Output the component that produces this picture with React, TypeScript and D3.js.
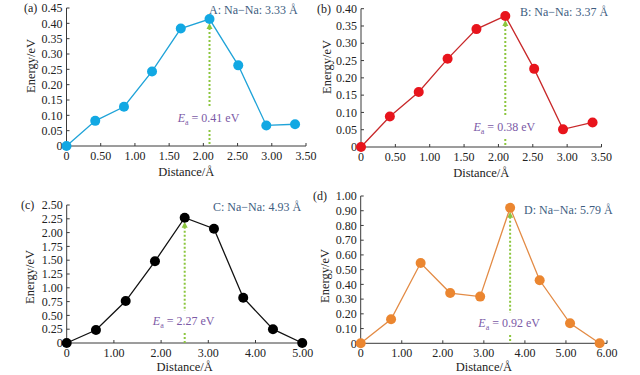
import React from "react";
import * as d3 from "d3";

const xA = [0, 0.42, 0.84, 1.25, 1.67, 2.09, 2.51, 2.92, 3.34];
const yA = [0, 0.082, 0.128, 0.243, 0.383, 0.414, 0.263, 0.067, 0.071];
const xB = [0, 0.42, 0.84, 1.26, 1.68, 2.1, 2.52, 2.94, 3.37];
const yB = [0, 0.088, 0.159, 0.255, 0.341, 0.379, 0.226, 0.051, 0.071];
const xC = [0, 0.62, 1.25, 1.87, 2.5, 3.12, 3.74, 4.37, 4.99];
const yC = [0, 0.235, 0.76, 1.48, 2.27, 2.07, 0.82, 0.25, 0];
const xD = [0, 0.74, 1.46, 2.18, 2.91, 3.64, 4.36, 5.1, 5.82];
const yD = [0, 0.163, 0.545, 0.341, 0.317, 0.92, 0.428, 0.136, 0];

const xTicksAB = [0, 0.5, 1, 1.5, 2, 2.5, 3, 3.5];
const yTicksA = [0, 0.05, 0.1, 0.15, 0.2, 0.25, 0.3, 0.35, 0.4, 0.45];
const yTicksB = [0, 0.05, 0.1, 0.15, 0.2, 0.25, 0.3, 0.35, 0.4];
const xTicksC = [0, 1, 2, 3, 4, 5];
const yTicksC = [0, 0.25, 0.5, 0.75, 1, 1.25, 1.5, 1.75, 2, 2.25, 2.5];
const xTicksD = [0, 1, 2, 3, 4, 5, 6];
const yTicksD = [0, 0.1, 0.2, 0.3, 0.4, 0.5, 0.6, 0.7, 0.8, 0.9, 1.0];

const panelLetters = ["(a)", "(b)", "(c)", "(d)"];
const pathLabels = ["A: Na\u2212Na: 3.33 Å", "B: Na\u2212Na: 3.37 Å", "C: Na\u2212Na: 4.93 Å", "D: Na\u2212Na: 5.79 Å"];
const barrierValues = ["0.41", "0.38", "2.27", "0.92"];

const FONT = "'Liberation Serif', 'Times New Roman', serif";
const AXIS = "#3a3a3a";
const fmt = (d: number) => (d === 0 ? "0" : d.toFixed(2));

type PanelProps = {
  xs: number[]; ys: number[]; xTicks: number[]; yTicks: number[];
  left: number; right: number; top: number; bottom: number;
  line: string; fill: string; letter: string; letterX: number;
  label: string; labelX: number; labelY: number;
  ea: string; eaY: number; yTitleX: number; yTitleY: number; xTitleDy: number;
};

function Panel(p: PanelProps) {
  const x = d3.scaleLinear().domain([p.xTicks[0], p.xTicks[p.xTicks.length - 1]]).range([p.left, p.right]);
  const y = d3.scaleLinear().domain([p.yTicks[0], p.yTicks[p.yTicks.length - 1]]).range([p.bottom, p.top]);
  const pts = p.xs.map((v, i) => [v, p.ys[i]] as [number, number]);
  const line = d3.line<[number, number]>().x(d => x(d[0])).y(d => y(d[1]));
  const peakIdx = d3.maxIndex(p.ys);
  const px = x(p.xs[peakIdx]);
  const py = y(p.ys[peakIdx]);
  const green = "#8cc63f";
  const arrowTop = py + 4;
  const gapTop = p.eaY - 14;
  const gapBot = p.eaY + 8;
  return (
    <g fontFamily={FONT}>
      <line x1={p.left} x2={p.left} y1={p.top} y2={p.bottom} stroke={AXIS} strokeWidth={1} />
      <line x1={p.left} x2={p.right} y1={p.bottom} y2={p.bottom} stroke={AXIS} strokeWidth={1} />
      {p.yTicks.map(t => (
        <g key={"y" + t}>
          <line x1={p.left} x2={p.left + 3} y1={y(t)} y2={y(t)} stroke={AXIS} />
          <text x={p.left - 4} y={y(t)} dy="0.35em" textAnchor="end" fontSize={12} fill="#222">{fmt(t)}</text>
        </g>
      ))}
      {p.xTicks.map(t => (
        <g key={"x" + t}>
          <line x1={x(t)} x2={x(t)} y1={p.bottom} y2={p.bottom - 3} stroke={AXIS} />
          <text x={x(t)} y={p.bottom + 14} textAnchor="middle" fontSize={12} fill="#222">{fmt(t)}</text>
        </g>
      ))}
      <text x={(p.left + p.right) / 2} y={p.bottom + p.xTitleDy} textAnchor="middle" fontSize={12.5} fill="#222">Distance/Å</text>
      <text transform={`translate(${p.yTitleX},${p.yTitleY}) rotate(-90)`} textAnchor="middle" dy="0.35em" fontSize={12.5} fill="#222">Energy/eV</text>
      <text x={p.letterX} y={p.top + 4} fontSize={12} fill="#222">{p.letter}</text>
      <line x1={px} x2={px} y1={arrowTop + 5} y2={gapTop} stroke={green} strokeWidth={2} strokeDasharray="2,2" />
      <line x1={px} x2={px} y1={gapBot} y2={p.bottom} stroke={green} strokeWidth={2} strokeDasharray="2,2" />
      <path d={`M${px},${arrowTop} L${px - 3},${arrowTop + 6} L${px + 3},${arrowTop + 6} Z`} fill={green} />
      <path d={line(pts) || ""} fill="none" stroke={p.line} strokeWidth={1.3} />
      {pts.map((d, i) => (
        <circle key={i} cx={x(d[0])} cy={y(d[1])} r={5} fill={p.fill} />
      ))}
      <text x={p.labelX} y={p.labelY} fontSize={12} fill="#3d5d80">{p.label}</text>
      <text x={px - 1} y={p.eaY} textAnchor="middle" fontSize={12} fill="#7b5aa6">
        <tspan fontStyle="italic">E</tspan>
        <tspan fontSize={8} dy={3}>a</tspan>
        <tspan dy={-3}>{" = " + p.ea + " eV"}</tspan>
      </text>
    </g>
  );
}

export default function App() {
  return (
    <svg width={640} height={375} style={{ display: "block", position: "absolute", left: 0, top: 0 }}>
      <rect width={640} height={375} fill="#fff" />
      <Panel xs={xA} ys={yA} xTicks={xTicksAB} yTicks={yTicksA} left={66.5} right={306} top={8} bottom={146}
        line="#1fa3d8" fill="#12a8e3" letter={panelLetters[0]} letterX={24} label={pathLabels[0]} labelX={209} labelY={14}
        ea={barrierValues[0]} eaY={122} yTitleX={31} yTitleY={66} xTitleDy={30} />
      <Panel xs={xB} ys={yB} xTicks={xTicksAB} yTicks={yTicksB} left={361} right={601.5} top={8.7} bottom={147}
        line="#c8282a" fill="#e8141c" letter={panelLetters[1]} letterX={317} label={pathLabels[1]} labelX={520} labelY={16}
        ea={barrierValues[1]} eaY={131} yTitleX={327} yTitleY={67} xTitleDy={30} />
      <Panel xs={xC} ys={yC} xTicks={xTicksC} yTicks={yTicksC} left={66.7} right={302.7} top={205} bottom={343}
        line="#111" fill="#000" letter={panelLetters[2]} letterX={21} label={pathLabels[2]} labelX={213} labelY={211}
        ea={barrierValues[2]} eaY={325} yTitleX={30} yTitleY={277} xTitleDy={27.5} />
      <Panel xs={xD} ys={yD} xTicks={xTicksD} yTicks={yTicksD} left={360.7} right={607} top={196} bottom={343.3}
        line="#e38b45" fill="#eb8630" letter={panelLetters[3]} letterX={313} label={pathLabels[3]} labelX={524} labelY={214}
        ea={barrierValues[3]} eaY={327} yTitleX={325} yTitleY={276} xTitleDy={27.5} />
    </svg>
  );
}
